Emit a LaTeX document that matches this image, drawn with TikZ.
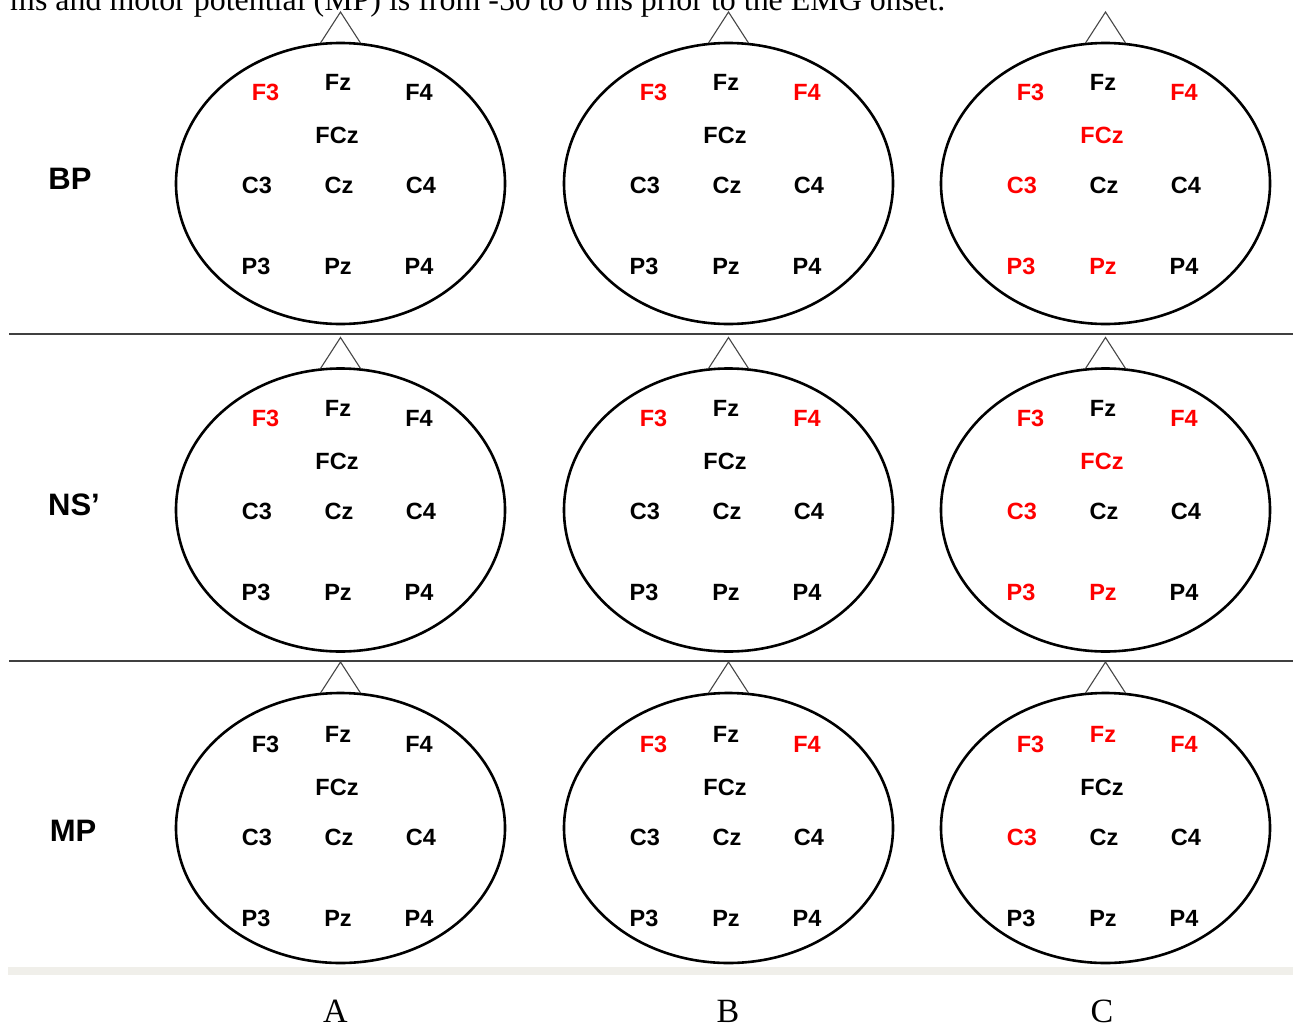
\documentclass[tikz,border=0pt]{standalone}
\usepackage{fontspec}
\setmainfont{Liberation Serif}
\setsansfont{Liberation Sans}
\usetikzlibrary{shapes.geometric}
\definecolor{eegred}{RGB}{255,0,0}
\definecolor{sepgray}{RGB}{64,64,64}
\definecolor{nosegray}{RGB}{70,70,70}
\definecolor{bandgray}{RGB}{240,239,234}
\tikzset{
  headshape/.style={ellipse, draw=black, line width=2.6pt, minimum width=329pt, inner sep=0pt, outer sep=0pt},
  nose/.style={draw=nosegray, line width=1.1pt, line join=miter},
  elec/.style={font=\sffamily\bfseries\fontsize{23.5}{24}\selectfont, inner sep=0pt, text=black},
  hot/.style={text=eegred},
  eF3/.style={}, eFz/.style={}, eF4/.style={}, eFCz/.style={}, eC3/.style={},
  eCz/.style={}, eC4/.style={}, eP3/.style={}, ePz/.style={}, eP4/.style={},
  rowlabel/.style={font=\sffamily\bfseries\fontsize{31}{32}\selectfont, inner sep=0pt},
  collabel/.style={font=\rmfamily\fontsize{34}{36}\selectfont, inner sep=0pt},
  sepline/.style={draw=sepgray, line width=2pt},
  captext/.style={anchor=base west, inner sep=0pt, font=\rmfamily\fontsize{28}{30}\selectfont},
}
% #1 name, #2 centre x, #3 centre y, #4 half height, #5 y of the C row
\newcommand\eegHead[5]{%
  \node[headshape, minimum height=#4*2] (#1) at (#2,#3) {};
  \draw[nose] ([xshift=-20pt]#1.north) -- ([yshift=31pt]#1.north) coordinate (#1tip) -- ([xshift=20pt]#1.north);
  \node[elec,eF3]  (#1F3)  at (#2-75,#5-93)   {F3};
  \node[elec,eFz]  (#1Fz)  at (#2-2.5,#5-103) {Fz};
  \node[elec,eF4]  (#1F4)  at (#2+78.5,#5-93) {F4};
  \node[elec,eFCz] (#1FCz) at (#2-3.5,#5-50)  {FCz};
  \node[elec,eC3]  (#1C3)  at (#2-83.5,#5)    {C3};
  \node[elec,eCz]  (#1Cz)  at (#2-1.5,#5)     {Cz};
  \node[elec,eC4]  (#1C4)  at (#2+80.5,#5)    {C4};
  \node[elec,eP3]  (#1P3)  at (#2-84.5,#5+81) {P3};
  \node[elec,ePz]  (#1Pz)  at (#2-2.5,#5+81)  {Pz};
  \node[elec,eP4]  (#1P4)  at (#2+78.5,#5+81) {P4};
}
\begin{document}
\begin{tikzpicture}[x=1pt,y=-1pt]
  \useasboundingbox (0,0) rectangle (1293,1028);
  \clip (0,0) rectangle (1293,1028);
  \fill[white] (0,0) rectangle (1293,1028);

  % cut-off caption line at the top
  \node[captext] (caption) at (10,10) {\resizebox{935pt}{!}{ms and motor potential (MP) is from -50 to 0 ms prior to the EMG onset.}};

  % separators and bottom band
  \coordinate (s1a) at (9,334);  \coordinate (s1b) at (1293,334);
  \coordinate (s2a) at (9,660.5);  \coordinate (s2b) at (1293,660.5);
  \draw[sepline] (s1a) -- (s1b);
  \draw[sepline] (s2a) -- (s2b);
  \fill[bandgray] (8,967) rectangle (1293,975);

  % row labels
  \node[rowlabel] (lBP) at (70,179) {BP};
  \node[rowlabel] (lNS) at (74,505) {NS’};
  \node[rowlabel] (lMP) at (73,831) {MP};

  % column labels
  \node[collabel] (cA) at (335.5,1011.5) {A};
  \node[collabel] (cB) at (728,1011.5) {B};
  \node[collabel] (cC) at (1102,1011.5) {C};

  % row 1 (BP)
  \begin{scope}[eF3/.style={hot}]
    \eegHead{hAa}{340.5}{183.5}{140.5}{185}
  \end{scope}
  \begin{scope}[eF3/.style={hot}, eF4/.style={hot}]
    \eegHead{hAb}{728.5}{183.5}{140.5}{185}
  \end{scope}
  \begin{scope}[eF3/.style={hot}, eF4/.style={hot}, eFCz/.style={hot}, eC3/.style={hot}, eP3/.style={hot}, ePz/.style={hot}]
    \eegHead{hAc}{1105.5}{183.5}{140.5}{185}
  \end{scope}

  % row 2 (NS')
  \begin{scope}[eF3/.style={hot}]
    \eegHead{hBa}{340.5}{510}{141.5}{511}
  \end{scope}
  \begin{scope}[eF3/.style={hot}, eF4/.style={hot}]
    \eegHead{hBb}{728.5}{510}{141.5}{511}
  \end{scope}
  \begin{scope}[eF3/.style={hot}, eF4/.style={hot}, eFCz/.style={hot}, eC3/.style={hot}, eP3/.style={hot}, ePz/.style={hot}]
    \eegHead{hBc}{1105.5}{510}{141.5}{511}
  \end{scope}

  % row 3 (MP)
  \begin{scope}
    \eegHead{hCa}{340.5}{828}{135}{837}
  \end{scope}
  \begin{scope}[eF3/.style={hot}, eF4/.style={hot}]
    \eegHead{hCb}{728.5}{828}{135}{837}
  \end{scope}
  \begin{scope}[eF3/.style={hot}, eFz/.style={hot}, eF4/.style={hot}, eC3/.style={hot}]
    \eegHead{hCc}{1105.5}{828}{135}{837}
  \end{scope}
\end{tikzpicture}
\end{document}
